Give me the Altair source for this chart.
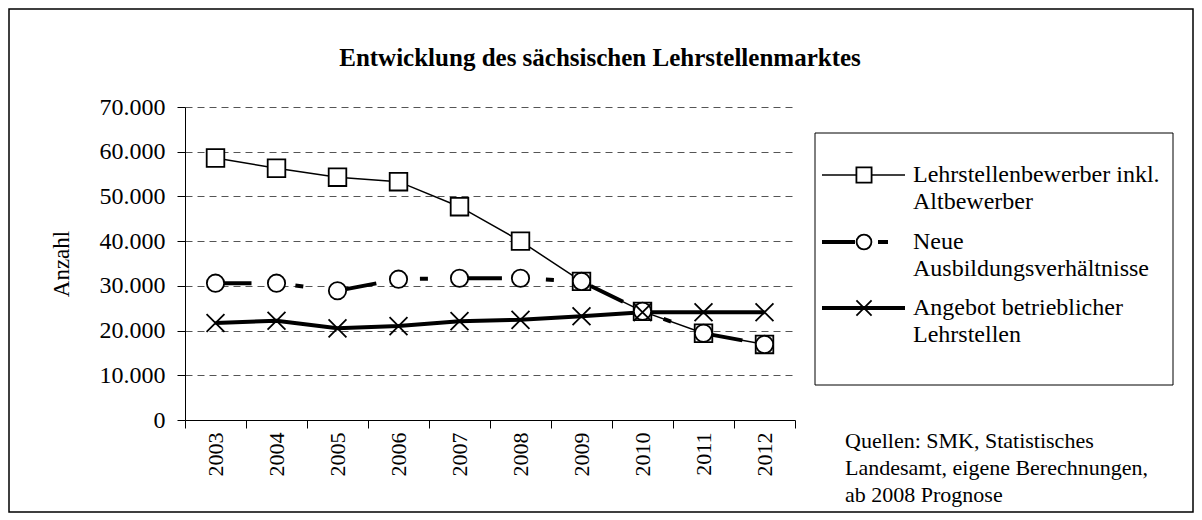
import altair as alt
import pandas as pd

# ---------------- data ----------------
years = ["2003", "2004", "2005", "2006", "2007", "2008", "2009", "2010", "2011", "2012"]
bewerber = [58600, 56300, 54300, 53300, 47700, 40000, 31000, 24300, 19400, 16900]
neue = [30600, 30600, 28900, 31500, 31700, 31700, 31000, 24300, 19400, 16900]
angebot = [21700, 22200, 20500, 21000, 22100, 22400, 23200, 24100, 24100, 24100]

series_names = [
    "Lehrstellenbewerber inkl. Altbewerber",
    "Neue Ausbildungsverhältnisse",
    "Angebot betrieblicher Lehrstellen",
]
legend_labels = [
    "Lehrstellenbewerber inkl.\nAltbewerber",
    "Neue\nAusbildungsverhältnisse",
    "Angebot betrieblicher\nLehrstellen",
]
y_ticks = [0, 10000, 20000, 30000, 40000, 50000, 60000, 70000]
title_text = "Entwicklung des sächsischen Lehrstellenmarktes"
y_title = "Anzahl"
source_text = "Quellen: SMK, Statistisches\nLandesamt, eigene Berechnungen,\nab 2008 Prognose"

FONT = "Liberation Serif"
FS_H = 24   # horizontal texts
FS_V = 22   # rotated texts

rows = []
for name, vals in zip(series_names, [bewerber, neue, angebot]):
    for yr, v in zip(years, vals):
        rows.append({"Jahr": yr, "Anzahl": v, "Reihe": name})
df = pd.DataFrame(rows)

x_enc = alt.X(
    "Jahr:O",
    bandPosition=0.5,
    scale=alt.Scale(type="band", domain=years, paddingInner=0, paddingOuter=0),
    axis=alt.Axis(
        title=None, labelAngle=270, labelFont=FONT, labelFontSize=FS_V, labelColor="black",
        labelPadding=4, tickBand="extent", tickSize=8, tickColor="black",
        domainColor="black", grid=False,
    ),
)
y_enc = alt.Y(
    "Anzahl:Q",
    scale=alt.Scale(domain=[0, 70000], nice=False),
    axis=alt.Axis(
        values=y_ticks, title=y_title, titleFont=FONT, titleFontSize=23,
        titleFontWeight="normal", titleColor="black", titlePadding=26,
        labelFont=FONT, labelFontSize=FS_H, labelColor="black", labelPadding=12,
        labelExpr="replace(format(datum.value, ','), ',', '.')",
        tickSize=8, tickColor="black", domainColor="black",
        grid=True, gridDash=[7, 5], gridColor="#555555", gridWidth=1,
        gridOpacity={"condition": {"test": "datum.value === 0", "value": 0}, "value": 1},
    ),
)


def series(name, line_kw, point_kw):
    base = alt.Chart(df).transform_filter(alt.datum.Reihe == name)
    ln = base.mark_line(color="black", **line_kw).encode(x=x_enc, y=y_enc)
    pt = base.mark_point(opacity=1, color="black", **point_kw).encode(x=x_enc, y=y_enc)
    return ln, pt


XPATH = "M-1,-1L1,1M-1,1L1,-1"
DASH = [36, 44, 8, 38]

l1, p1 = series(series_names[0], dict(strokeWidth=1.5),
                dict(shape="square", size=310, filled=True, fill="white", stroke="black", strokeWidth=1.8))
l2, p2 = series(series_names[1], dict(strokeWidth=4, strokeDash=DASH),
                dict(shape="circle", size=300, filled=True, fill="white", stroke="black", strokeWidth=1.8))
l3, p3 = series(series_names[2], dict(strokeWidth=4),
                dict(shape=XPATH, size=320, filled=False, stroke="black", strokeWidth=1.8))

# ---------------- legend, frame, title, note ----------------
one = alt.Chart(pd.DataFrame({"k": [0]}))

frame = one.mark_rect(fill=None, stroke="black", strokeWidth=1.5).encode(
    x=alt.value(-176), x2=alt.value(1008), y=alt.value(-98), y2=alt.value(405)
)
legend_box = one.mark_rect(fill=None, stroke="black", strokeWidth=1).encode(
    x=alt.value(630), x2=alt.value(988), y=alt.value(26), y2=alt.value(278)
)
title = one.mark_text(font=FONT, fontSize=25, fontWeight="bold", align="center",
                      baseline="middle", color="black").encode(
    x=alt.value(415), y=alt.value(-49), text=alt.value(title_text)
)
note = one.mark_text(font=FONT, fontSize=22, align="left", baseline="alphabetic",
                     lineBreak="\n", lineHeight=27, color="black").encode(
    x=alt.value(660), y=alt.value(341), text=alt.value(source_text)
)

leg_y = [68, 135, 201]
leg_layers = []
line_styles = [dict(strokeWidth=1.5), dict(strokeWidth=4, strokeDash=[33, 23, 10, 40]), dict(strokeWidth=4)]
pt_styles = [
    dict(shape="square", size=230, filled=True, fill="white", stroke="black", strokeWidth=1.8),
    dict(shape="circle", size=220, filled=True, fill="white", stroke="black", strokeWidth=1.8),
    dict(shape=XPATH, size=230, filled=False, stroke="black", strokeWidth=1.8),
]
for yy, lab, ls, ps in zip(leg_y, legend_labels, line_styles, pt_styles):
    leg_layers.append(one.mark_rule(color="black", **ls).encode(
        x=alt.value(637), x2=alt.value(720), y=alt.value(yy)))
    leg_layers.append(one.mark_point(opacity=1, color="black", **ps).encode(
        x=alt.value(679), y=alt.value(yy)))
    leg_layers.append(one.mark_text(font=FONT, fontSize=FS_H, align="left", baseline="middle",
                                    lineBreak="\n", lineHeight=27, color="black").encode(
        x=alt.value(728), y=alt.value(yy), text=alt.value(lab)))

chart = alt.layer(
    frame, l1, l2, l3, p1, p2, p3, legend_box, title, note, *leg_layers
).properties(
    width=610, height=313,
    autosize=alt.AutoSizeParams(type="none"),
    padding={"left": 177, "top": 99, "right": 399, "bottom": 95},
    background="white",
).configure_view(stroke=None)

chart.save("out.html", embed_options={"renderer": "svg", "actions": False})
